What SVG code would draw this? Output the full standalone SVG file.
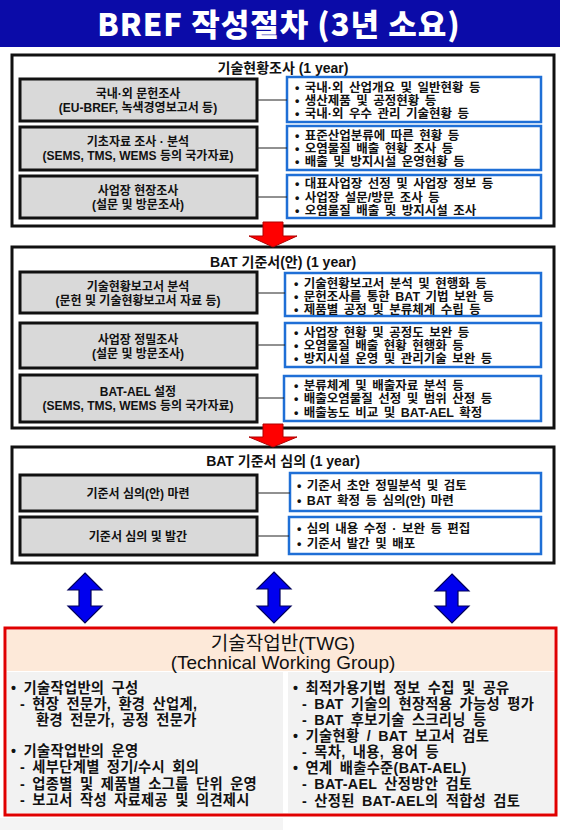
<svg xmlns="http://www.w3.org/2000/svg" width="563" height="830" viewBox="0 0 563 830">
<style>
text{font-family:"Liberation Sans","Noto Sans CJK KR",sans-serif;fill:#111;}
.sec{fill:#fff;stroke:#111;stroke-width:3;}
.gray{fill:#d9d9d9;stroke:#111;stroke-width:3;}
.blue{fill:#fff;stroke:#1f6fd6;stroke-width:2.5;}
.st{font-size:14px;font-weight:700;text-anchor:middle;}
.gt{font-size:12px;font-weight:700;text-anchor:middle;}
.bt{font-size:12.5px;font-weight:700;word-spacing:2px;}
.conn line{stroke:#222;stroke-width:1;}
.red{fill:#ff0000;stroke:#b00000;stroke-width:1;}
.dbl{fill:#0000ee;stroke:#00005a;stroke-width:1.2;}
.tw{font-size:14.3px;font-weight:700;word-spacing:3px;letter-spacing:0.3px;}
.th{font-size:19px;font-weight:400;text-anchor:middle;}
</style>
<rect x="0" y="0" width="560" height="47" fill="#0b0ba8"/>
<text x="279" y="36" font-size="31" font-weight="900" letter-spacing="1" text-anchor="middle" style="fill:#fff;font-family:'Noto Sans CJK KR',sans-serif">BREF 작성절차 (3년 소요)</text>

<g id="section1">
<rect class="sec" x="12" y="55" width="542" height="171"/>
<text class="st" x="283" y="73">기술현황조사 (1 year)</text>
</g>
<g id="s1-left1"><rect class="gray" x="20" y="79" width="237" height="42"/><text class="gt" x="138" y="97.5">국내·외 문헌조사</text><text class="gt" x="138" y="111.5">(EU-BREF, 녹색경영보고서 등)</text></g>
<g id="s1-right1"><rect class="blue" x="287" y="77" width="254" height="45"/><text class="bt" x="295" y="91.5">• 국내·외 산업개요 및 일반현황 등</text><text class="bt" x="295" y="104.5">• 생산제품 및 공정현황 등</text><text class="bt" x="295" y="117.5">• 국내·외 우수 관리 기술현황 등</text></g>
<g id="s1-left2"><rect class="gray" x="20" y="127" width="237" height="43"/><text class="gt" x="138" y="146">기초자료 조사 · 분석</text><text class="gt" x="138" y="160">(SEMS, TMS, WEMS 등의 국가자료)</text></g>
<g id="s1-right2"><rect class="blue" x="287" y="126" width="254" height="44"/><text class="bt" x="295" y="139.5">• 표준산업분류에 따른 현황 등</text><text class="bt" x="295" y="152.5">• 오염물질 배출 현황 조사 등</text><text class="bt" x="295" y="166">• 배출 및 방지시설 운영현황 등</text></g>
<g id="s1-left3"><rect class="gray" x="20" y="176" width="237" height="42"/><text class="gt" x="138" y="194.5">사업장 현장조사</text><text class="gt" x="138" y="208.5">(설문 및 방문조사)</text></g>
<g id="s1-right3"><rect class="blue" x="287" y="175" width="254" height="43"/><text class="bt" x="295" y="188">• 대표사업장 선정 및 사업장 정보 등</text><text class="bt" x="295" y="201.5">• 사업장 설문/방문 조사 등</text><text class="bt" x="295" y="214.5">• 오염물질 배출 및 방지시설 조사</text></g>

<g id="section2">
<rect class="sec" x="12" y="247" width="542" height="181"/>
<text class="st" x="283" y="267">BAT 기준서(안) (1 year)</text>
</g>
<g id="s2-left1"><rect class="gray" x="20" y="272" width="237" height="41"/><text class="gt" x="138" y="291">기술현황보고서 분석</text><text class="gt" x="138" y="305">(문헌 및 기술현황보고서 자료 등)</text></g>
<g id="s2-right1"><rect class="blue" x="285" y="273" width="256" height="43"/><text class="bt" x="294" y="287.5">• 기술현황보고서 분석 및 현행화 등</text><text class="bt" x="294" y="300.5">• 문헌조사를 통한 BAT 기법 보완 등</text><text class="bt" x="294" y="313.5">• 제품별 공정 및 분류체계 수립 등</text></g>
<g id="s2-left2"><rect class="gray" x="20" y="323" width="237" height="45"/><text class="gt" x="138" y="343.5">사업장 정밀조사</text><text class="gt" x="138" y="357.5">(설문 및 방문조사)</text></g>
<g id="s2-right2"><rect class="blue" x="285" y="323" width="256" height="44"/><text class="bt" x="294" y="336.5">• 사업장 현황 및 공정도 보완 등</text><text class="bt" x="294" y="349.5">• 오염물질 배출 현황 현행화 등</text><text class="bt" x="294" y="363">• 방지시설 운영 및 관리기술 보완 등</text></g>
<g id="s2-left3"><rect class="gray" x="20" y="375" width="237" height="47"/><text class="gt" x="138" y="396">BAT-AEL 설정</text><text class="gt" x="138" y="410">(SEMS, TMS, WEMS 등의 국가자료)</text></g>
<g id="s2-right3"><rect class="blue" x="284" y="376" width="257" height="45"/><text class="bt" x="294" y="390">• 분류체계 및 배출자료 분석 등</text><text class="bt" x="294" y="403">• 배출오염물질 선정 및 범위 산정 등</text><text class="bt" x="294" y="416.5">• 배출농도 비교 및 BAT-AEL 확정</text></g>

<g id="section3">
<rect class="sec" x="12" y="447" width="542" height="116"/>
<text class="st" x="283" y="466">BAT 기준서 심의 (1 year)</text>
</g>
<g id="s3-left1"><rect class="gray" x="20" y="475" width="237" height="36"/><text class="gt" x="138" y="497.5">기준서 심의(안) 마련</text></g>
<g id="s3-right1"><rect class="blue" x="290" y="473" width="251" height="38"/><text class="bt" x="297" y="489.5">• 기준서 초안 정밀분석 및 검토</text><text class="bt" x="297" y="504.5">• BAT 확정 등 심의(안) 마련</text></g>
<g id="s3-left2"><rect class="gray" x="20" y="517" width="237" height="38"/><text class="gt" x="138" y="540.5">기준서 심의 및 발간</text></g>
<g id="s3-right2"><rect class="blue" x="289" y="517" width="252" height="37"/><text class="bt" x="297" y="533">• 심의 내용 수정 · 보완 등 편집</text><text class="bt" x="297" y="547.5">• 기준서 발간 및 배포</text></g>

<g id="connectors">
<g class="conn">
<line x1="257" y1="100" x2="287" y2="100"/>
<line x1="257" y1="148" x2="287" y2="148"/>
<line x1="257" y1="197" x2="287" y2="197"/>
<line x1="257" y1="293" x2="285" y2="293"/>
<line x1="257" y1="345" x2="285" y2="345"/>
<line x1="257" y1="398" x2="284" y2="398"/>
<line x1="257" y1="493" x2="290" y2="493"/>
<line x1="257" y1="536" x2="289" y2="536"/>
</g>
<polygon class="red" points="263,222 283,222 283,236 297,236 273,247 249,236 263,236"/>
<polygon class="red" points="263,424 283,424 283,437 297,437 273,447 249,437 263,437"/>
<polygon class="dbl" points="85,573 102,590 91,590 91,606 102,606 85,623 68,606 79,606 79,590 68,590"/>
<polygon class="dbl" points="274,572 291,589 280,589 280,606 291,606 274,623 257,606 268,606 268,589 257,589"/>
<polygon class="dbl" points="452,574 469,591 458,591 458,606 469,606 452,623 435,606 446,606 446,591 435,591"/>
</g>

<rect x="0" y="818" width="283" height="12" fill="#f4f4f4"/>
<g id="twg">
<rect x="5" y="628" width="551" height="187" fill="#fff" stroke="#e00000" stroke-width="3"/>
<rect x="7" y="630" width="547" height="41" fill="#fde9d9"/>
<rect x="7" y="672" width="276" height="141" fill="#f2f2f2"/>
<rect x="288" y="672" width="266" height="141" fill="#f2f2f2"/>
<text class="th" x="283" y="649.5">기술작업반(TWG)</text>
<text class="th" x="283" y="668.5">(Technical Working Group)</text>
<text class="tw" x="11" y="692.5">• 기술작업반의 구성</text>
<text class="tw" x="20" y="709">- 현장 전문가, 환경 산업계,</text>
<text class="tw" x="36" y="725.3">환경 전문가, 공정 전문가</text>
<text class="tw" x="11" y="755.5">• 기술작업반의 운영</text>
<text class="tw" x="20" y="772">- 세부단계별 정기/수시 회의</text>
<text class="tw" x="20" y="788.5">- 업종별 및 제품별 소그룹 단위 운영</text>
<text class="tw" x="20" y="805">- 보고서 작성 자료제공 및 의견제시</text>
<text class="tw" x="293" y="692.5">• 최적가용기법 정보 수집 및 공유</text>
<text class="tw" x="302" y="708.6">- BAT 기술의 현장적용 가능성 평가</text>
<text class="tw" x="302" y="724.8">- BAT 후보기술 스크리닝 등</text>
<text class="tw" x="293" y="740.9">• 기술현황 / BAT 보고서 검토</text>
<text class="tw" x="302" y="757.1">- 목차, 내용, 용어 등</text>
<text class="tw" x="293" y="773.2">• 연계 배출수준(BAT-AEL)</text>
<text class="tw" x="302" y="789.3">- BAT-AEL 산정방안 검토</text>
<text class="tw" x="302" y="805.5">- 산정된 BAT-AEL의 적합성 검토</text>
</g>
</svg>
